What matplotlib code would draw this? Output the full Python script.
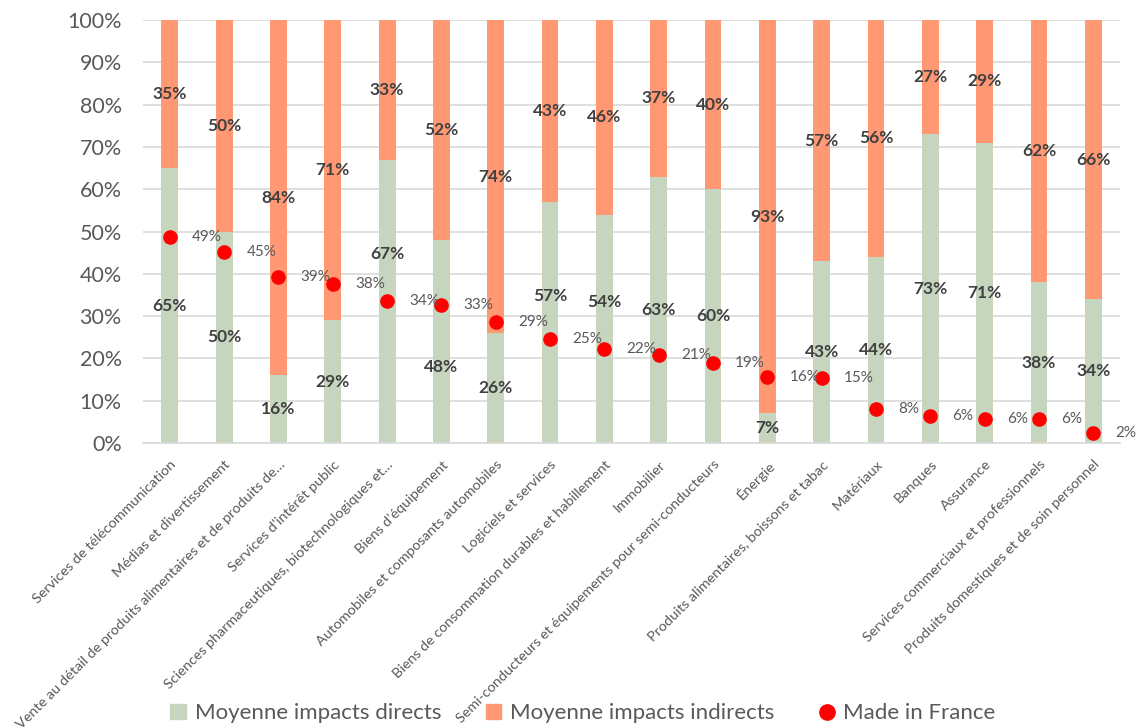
import matplotlib
matplotlib.use("Agg")
import matplotlib.pyplot as plt
import numpy as np
from matplotlib.lines import Line2D
from matplotlib.patches import Patch

plt.rcParams['font.family'] = ['Lato', 'DejaVu Sans']

categories = [
    "Services de télécommunication",
    "Médias et divertissement",
    "Vente au détail de produits alimentaires et de produits de…",
    "Services d’intérêt public",
    "Sciences pharmaceutiques, biotechnologiques et…",
    "Biens d’équipement",
    "Automobiles et composants automobiles",
    "Logiciels et services",
    "Biens de consommation durables et habillement",
    "Immobilier",
    "Semi-conducteurs et équipements pour semi-conducteurs",
    "Énergie",
    "Produits alimentaires, boissons et tabac",
    "Matériaux",
    "Banques",
    "Assurance",
    "Services commerciaux et professionnels",
    "Produits domestiques et de soin personnel",
]
direct = [65, 50, 16, 29, 67, 48, 26, 57, 54, 63, 60, 7, 43, 44, 73, 71, 38, 34]
indirect = [35, 50, 84, 71, 33, 52, 74, 43, 46, 37, 40, 93, 57, 56, 27, 29, 62, 66]
made_in_france = [48.7, 45.2, 39.2, 37.6, 33.6, 32.6, 28.6, 24.6, 22.2, 20.8,
                  18.9, 15.6, 15.4, 8.0, 6.4, 5.7, 5.6, 2.4]

# labels moved by hand in the original to dodge the dots (index -> y)
direct_label_y = {4: 44.7, 5: 18.0, 7: 34.8, 8: 33.3}

green = '#C5D5BE'
orange = '#FF9873'
red = '#FF0000'
txt = '#404040'

fig = plt.figure(figsize=(11.41, 7.28), dpi=100)
ax = fig.add_axes([0.125, 0.3915, 0.857, 0.581])

x = np.arange(len(categories))
w = 0.31
ax.bar(x, direct, w, color=green, zorder=2)
ax.bar(x, indirect, w, bottom=direct, color=orange, zorder=2)

for i in range(len(x)):
    yd = direct_label_y.get(i, direct[i] / 2)
    ax.text(x[i], yd, f"{direct[i]}%", ha='center', va='center',
            fontsize=12.5, fontweight='bold', color=txt, zorder=4)
    ax.text(x[i], direct[i] + indirect[i] / 2, f"{indirect[i]}%", ha='center',
            va='center', fontsize=12.5, fontweight='bold', color=txt, zorder=4)

ax.plot(x, made_in_france, 'o', color=red, ms=9.5, zorder=5, linestyle='none')
for i in range(len(x)):
    ax.annotate(f"{made_in_france[i]:.0f}%", (x[i], made_in_france[i]),
                xytext=(16, 0), textcoords='offset points', ha='left',
                va='center', fontsize=11, color='#595959', zorder=6)

ax.set_xlim(-0.5, len(x) - 0.5)
ax.set_ylim(0, 100)
ax.set_yticks(np.arange(0, 101, 10))
ax.set_yticklabels([f"{v}%" for v in range(0, 101, 10)], fontsize=15.5, color='#595959')
ax.yaxis.grid(True, color='#D9D9D9', linewidth=1.2, zorder=0)
ax.set_axisbelow(True)
ax.set_xticks(x)
ax.set_xticklabels(categories, rotation=45, ha='right', va='top',
                   rotation_mode='anchor', fontsize=10.4, color='#595959')
ax.tick_params(axis='both', length=0)
ax.tick_params(axis='x', pad=11)
ax.tick_params(axis='y', pad=15)
for s in ['top', 'right', 'left']:
    ax.spines[s].set_visible(False)
ax.spines['bottom'].set_color('#D9D9D9')
ax.spines['bottom'].set_linewidth(1.2)

handles = [
    Patch(color=green, label='Moyenne impacts directs'),
    Patch(color=orange, label='Moyenne impacts indirects'),
    Line2D([], [], marker='o', color=red, linestyle='none', ms=11, label='Made in France'),
]
leg = fig.legend(handles=handles, loc='center', bbox_to_anchor=(0.511, 0.02),
                 ncol=3, frameon=False, fontsize=16, handlelength=0.7,
                 handleheight=0.7, handletextpad=0.4, columnspacing=2.0)
for t in leg.get_texts():
    t.set_color('#595959')

fig.savefig('out.png', dpi=100)
